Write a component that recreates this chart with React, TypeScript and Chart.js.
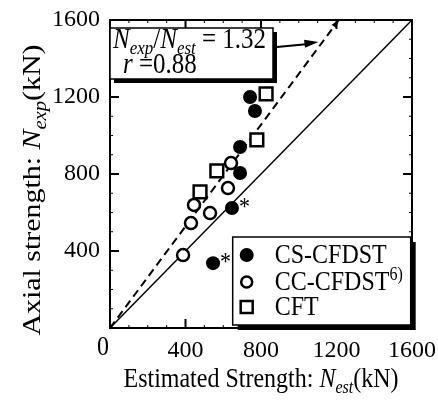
import React, { useEffect, useRef } from 'react';
import { Chart, registerables } from 'chart.js';
Chart.register(...registerables);

// ---- data (kN) ----
const CS_X = [742, 768, 689, 689, 646, 546];
const CS_Y = [1200, 1127, 940, 805, 623, 337];
const CS_STARRED = [4, 5];
const CC_X = [641, 625, 445, 530, 429, 387];
const CC_Y = [857, 727, 639, 597, 545, 379];
const CFT_X = [827, 778, 566, 477];
const CFT_Y = [1216, 977, 816, 707];
const AXIS_MIN = 0;
const AXIS_MAX = 1600;
const TICK_STEP = 400;
const MINOR_STEP = 100;
const RATIO = 1.32;
const R_VALUE = 0.88;
const SERIES_NAMES = ['CS-CFDST', 'CC-CFDST', 'CFT'];

const SERIF = '"Liberation Serif", "Times New Roman", serif';
const VSTRETCH = 1.15;

type Seg = { t: string; italic?: boolean; sub?: boolean; sup?: boolean };

function drawRich(
  ctx: CanvasRenderingContext2D, segs: Seg[], x: number, y: number, size: number,
  align: 'left' | 'center' = 'left', sx = 1, sy = VSTRETCH,
) {
  const subSize = Math.round(size * 0.68);
  const font = (s: Seg) => `${s.italic ? 'italic ' : ''}${s.sub || s.sup ? subSize : size}px ${SERIF}`;
  let total = 0;
  for (const s of segs) { ctx.font = font(s); total += ctx.measureText(s.t).width; }
  ctx.save();
  ctx.translate(x, y);
  ctx.scale(sx, sy);
  let cx = align === 'center' ? -total / 2 : 0;
  ctx.textBaseline = 'alphabetic';
  ctx.textAlign = 'left';
  for (const s of segs) {
    ctx.font = font(s);
    const dy = s.sub ? size * 0.22 : s.sup ? -size * 0.38 : 0;
    ctx.fillText(s.t, cx, dy);
    cx += ctx.measureText(s.t).width;
  }
  ctx.restore();
}

const decor = {
  id: 'decor',
  afterDraw(chart: any) {
    const { ctx, chartArea: a, scales } = chart;
    const xs = scales.x, ys = scales.y;
    ctx.save();
    ctx.fillStyle = '#000';
    ctx.strokeStyle = '#000';

    // frame
    ctx.lineWidth = 2;
    ctx.strokeRect(a.left, a.top, a.right - a.left, a.bottom - a.top);

    // ticks (inward)
    for (let v = AXIS_MIN + MINOR_STEP; v < AXIS_MAX; v += MINOR_STEP) {
      const major = v % TICK_STEP === 0;
      const len = major ? 9 : 3;
      ctx.lineWidth = major ? 2 : 1;
      const px = xs.getPixelForValue(v);
      const py = ys.getPixelForValue(v);
      ctx.beginPath();
      ctx.moveTo(px, a.bottom); ctx.lineTo(px, a.bottom - len);
      ctx.moveTo(px, a.top); ctx.lineTo(px, a.top + len);
      ctx.moveTo(a.left, py); ctx.lineTo(a.left + len, py);
      ctx.moveTo(a.right, py); ctx.lineTo(a.right - len, py);
      ctx.stroke();
    }

    // shared origin label
    drawRich(ctx, [{ t: '0' }], a.left - 7, a.bottom + 27, 24, 'center');

    // asterisks
    const meta = chart.getDatasetMeta(0);
    for (const i of CS_STARRED) {
      const el = meta.data[i];
      drawRich(ctx, [{ t: '*' }], el.x + 7, el.y + 7, 22);
    }

    // arrowhead at top of dashed line
    const dEnd = chart.getDatasetMeta(4).data[1];
    const dStart = chart.getDatasetMeta(4).data[0];
    const ang = Math.atan2(dEnd.y - dStart.y, dEnd.x - dStart.x);
    const arrow = (tx: number, ty: number, th: number, L: number, W: number) => {
      ctx.beginPath();
      ctx.moveTo(tx, ty);
      ctx.lineTo(tx - L * Math.cos(th) + W * Math.sin(th), ty - L * Math.sin(th) - W * Math.cos(th));
      ctx.lineTo(tx - L * Math.cos(th) - W * Math.sin(th), ty - L * Math.sin(th) + W * Math.cos(th));
      ctx.closePath();
      ctx.fill();
    };
    arrow(dEnd.x, dEnd.y, ang, 8, 3);

    // annotation box
    const bx = a.left, by = a.top + 8, bw = 163, bh = 51;
    ctx.fillRect(bx + 4, by + 4, bw, bh);
    ctx.fillStyle = '#fff';
    ctx.fillRect(bx, by, bw, bh);
    ctx.fillStyle = '#000';
    ctx.lineWidth = 1.5;
    ctx.strokeRect(bx, by, bw, bh);
    drawRich(ctx, [
      { t: 'N', italic: true }, { t: 'exp', italic: true, sub: true }, { t: '/' },
      { t: 'N', italic: true }, { t: 'est', italic: true, sub: true }, { t: ' = ' + RATIO.toFixed(2) },
    ], bx + 3, by + 20, 25);
    drawRich(ctx, [{ t: 'r', italic: true }, { t: ' =' + R_VALUE.toFixed(2) }], bx + 13, by + 45, 25);

    // arrow from box to dashed line
    ctx.lineWidth = 2;
    const sx = bx + bw + 4, sy = by + 19;
    const ty = by + 14;
    const tx = xs.getPixelForValue(ys.getValueForPixel(ty) / RATIO) - 4;
    ctx.beginPath();
    ctx.moveTo(sx, sy);
    ctx.lineTo(tx - 10, ty + 2);
    ctx.stroke();
    arrow(tx, ty, Math.atan2(ty - sy, tx - sx), 14, 4);

    // legend box
    const lx = xs.getPixelForValue(650), ly = a.bottom - 91, lw = 178, lh = 88;
    ctx.fillRect(lx + 5, ly + 5, lw, lh);
    ctx.fillStyle = '#fff';
    ctx.fillRect(lx, ly, lw, lh);
    ctx.fillStyle = '#000';
    ctx.lineWidth = 1.5;
    ctx.strokeRect(lx, ly, lw, lh);
    const rows = [ly + 18, ly + 45, ly + 70];
    const mx = lx + 14;
    ctx.beginPath(); ctx.arc(mx, rows[0], 7, 0, Math.PI * 2); ctx.fill();
    ctx.lineWidth = 2.5;
    ctx.beginPath(); ctx.arc(mx, rows[1], 5.5, 0, Math.PI * 2); ctx.stroke();
    ctx.strokeRect(mx - 6, rows[2] - 6, 12, 12);
    const tx0 = lx + 42;
    drawRich(ctx, [{ t: SERIES_NAMES[0] }], tx0, rows[0] + 8, 24);
    drawRich(ctx, [{ t: SERIES_NAMES[1] }, { t: '6)', sup: true }], tx0, rows[1] + 8, 24);
    drawRich(ctx, [{ t: SERIES_NAMES[2] }], tx0, rows[2] + 8, 24);

    // axis titles
    drawRich(ctx, [
      { t: 'Estimated Strength: ' }, { t: 'N', italic: true }, { t: 'est', italic: true, sub: true }, { t: '(kN)' },
    ], (a.left + a.right) / 2, 387, 24, 'center');
    ctx.translate(40, (a.top + a.bottom) / 2 + 16);
    ctx.rotate(-Math.PI / 2);
    drawRich(ctx, [
      { t: 'Axial strength: ' }, { t: 'N', italic: true }, { t: 'exp', italic: true, sub: true }, { t: '(kN)' },
    ], 0, 0, 26, 'center', VSTRETCH, 1);
    ctx.restore();
  },
};

export default function App() {
  const ref = useRef<HTMLCanvasElement>(null);
  useEffect(() => {
    document.body.style.margin = '0';
    const toPts = (xs: number[], ys: number[]) => xs.map((x, i) => ({ x, y: ys[i] }));
    const tickCb = (v: any) => (Number(v) === 0 ? '' : String(v));
    const chart = new Chart(ref.current!, {
      type: 'scatter',
      data: {
        datasets: [
          {
            label: SERIES_NAMES[0], data: toPts(CS_X, CS_Y), order: 2,
            pointStyle: 'circle', pointRadius: 7, backgroundColor: '#000', borderColor: '#000', borderWidth: 0,
          },
          {
            label: SERIES_NAMES[1], data: toPts(CC_X, CC_Y), order: 1,
            pointStyle: 'circle', pointRadius: 6, backgroundColor: '#fff', borderColor: '#000', borderWidth: 2.5,
          },
          {
            label: SERIES_NAMES[2], data: toPts(CFT_X, CFT_Y), order: 0,
            pointStyle: 'rect', pointRadius: 9, backgroundColor: '#fff', borderColor: '#000', borderWidth: 2.5,
          },
          {
            type: 'line', label: '1:1', data: [{ x: AXIS_MIN, y: AXIS_MIN }, { x: AXIS_MAX, y: AXIS_MAX }], order: 4,
            borderColor: '#000', borderWidth: 1.5, pointRadius: 0, showLine: true, fill: false,
          } as any,
          {
            type: 'line', label: 'mean', data: [{ x: AXIS_MIN, y: AXIS_MIN }, { x: AXIS_MAX / RATIO, y: AXIS_MAX }], order: 3,
            borderColor: '#000', borderWidth: 2, borderDash: [8, 5], pointRadius: 0, showLine: true, fill: false,
          } as any,
        ],
      },
      options: {
        responsive: false,
        animation: false,
        layout: { padding: { top: 20, right: 26, left: 0, bottom: 0 } },
        plugins: { legend: { display: false }, tooltip: { enabled: false } },
        scales: {
          x: {
            type: 'linear', min: AXIS_MIN, max: AXIS_MAX,
            grid: { display: false, drawTicks: false, tickLength: 0 }, border: { display: false },
            ticks: { stepSize: TICK_STEP, callback: tickCb, color: '#000', font: { family: SERIF, size: 24 }, padding: 8, maxRotation: 0 },
            afterFit: (s: any) => { s.height = 75; s.paddingLeft = 0; s.paddingRight = 0; },
          },
          y: {
            type: 'linear', min: AXIS_MIN, max: AXIS_MAX,
            grid: { display: false, drawTicks: false, tickLength: 0 }, border: { display: false },
            ticks: { stepSize: TICK_STEP, callback: tickCb, color: '#000', font: { family: SERIF, size: 24 }, padding: 10 },
            afterFit: (s: any) => { s.width = 110; s.paddingTop = 0; s.paddingBottom = 0; },
          },
        },
      },
      plugins: [decor],
    });
    return () => chart.destroy();
  }, []);
  return <canvas ref={ref} width={438} height={403} style={{ display: 'block' }} />;
}
